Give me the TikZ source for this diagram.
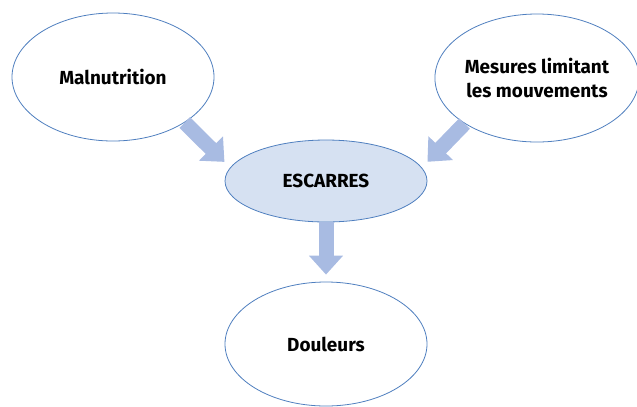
\documentclass[tikz,border=0pt]{standalone}
\usepackage{fontspec}
\setmainfont{Fira Sans}
\usepackage{tikz}
\usetikzlibrary{arrows.meta, shapes.geometric}
\definecolor{eLine}{HTML}{4F7FBF}
\definecolor{eFill}{HTML}{D6E1F2}
\definecolor{aBlue}{HTML}{A8BBE2}
\tikzset{
  cause/.style={ellipse, draw=eLine, line width=0.8bp, fill=white, inner sep=0pt,
    minimum width=202bp, minimum height=128bp, align=center,
    font=\fontsize{19}{24}\selectfont\bfseries},
  effet/.style={cause, fill=eFill, minimum height=82bp},
  fleche/.style={draw=aBlue, line width=15bp,
    -{Triangle[width=33bp, length=19bp]}, shorten >=8bp},
}
\begin{document}
\begin{tikzpicture}[x=1bp, y=-1bp]
  \useasboundingbox (0,0) rectangle (637,406);
  \node[cause] (mal) at (113,77) {Malnutrition};
  \node[cause, minimum width=200bp] (mes) at (537,78) {Mesures limitant\\les mouvements};
  \node[effet] (esc) at (326,181) {ESCARRES};
  \node[cause, minimum height=124bp] (dou) at (326,344) {Douleurs};
  \draw[fleche] (mal.south east) -- (esc.172);
  \draw[fleche] (mes.south west) -- (esc.8);
  \draw[fleche, shorten >=7bp] (esc.south) -- (dou.north);
\end{tikzpicture}
\end{document}
